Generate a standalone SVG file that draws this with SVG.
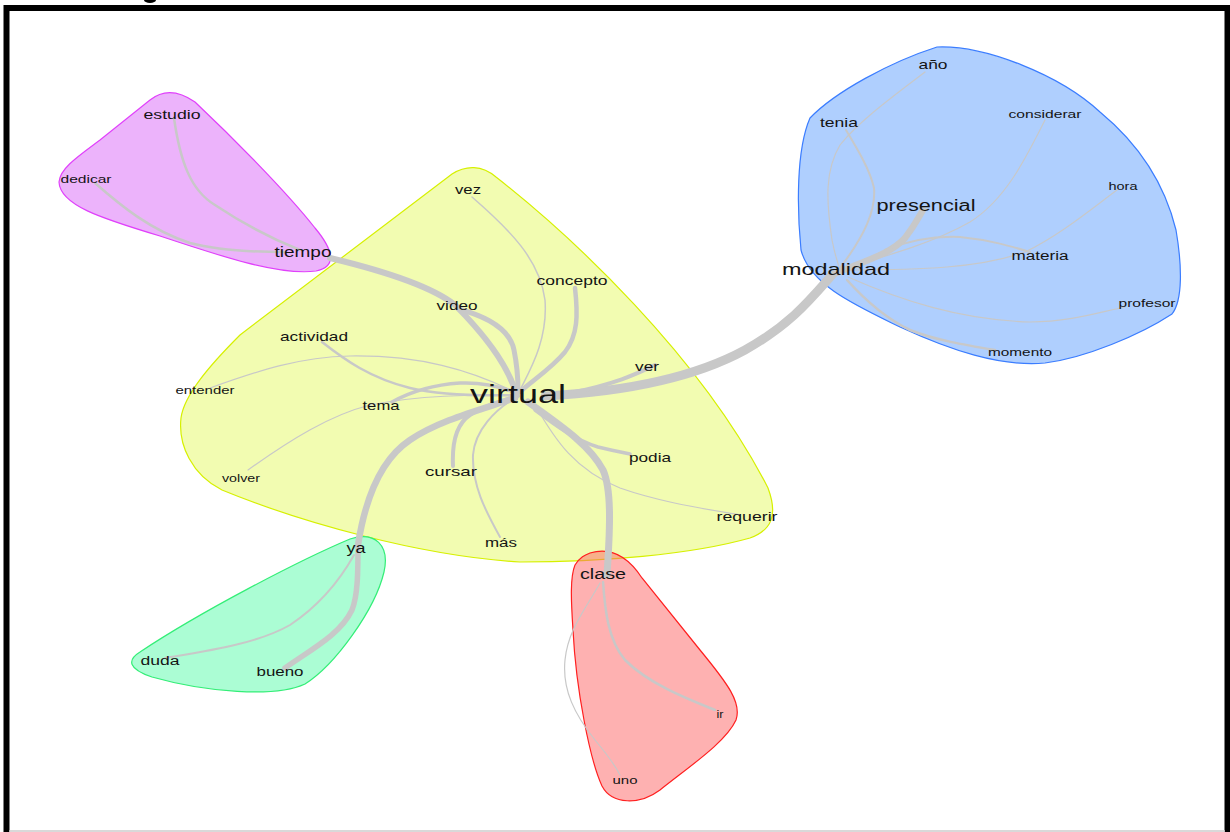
<svg xmlns="http://www.w3.org/2000/svg" width="1230" height="832" viewBox="0 0 1230 832">
<style>
.e{fill:none;stroke:#c8c8c8;stroke-linecap:round}
.t{font-family:"Liberation Sans",Arial,sans-serif;fill:#141414;text-anchor:middle}
.hull{stroke-width:1.2}
</style>
<rect x="0" y="0" width="1230" height="832" fill="#ffffff"/>
<g id="clusters">
<path class="hull" id="hull-yellow" fill="rgb(229,250,100)" fill-opacity="0.5" stroke="#d6f000" d="M 452,174 C 466,165 482,165 496,177 C 570,235 700,355 768,488 C 778,515 772,530 750,538 C 690,555 600,562 520,562 C 420,556 300,522 222,490 C 192,475 178,445 181,418 C 184,395 210,365 240,335 L 452,174 Z"/>
<path class="hull" id="hull-pink" fill="rgb(217,103,247)" fill-opacity="0.5" stroke="#e040fb" d="M 150,100 C 160,92 175,88 195,102 C 230,135 285,190 315,228 C 335,252 336,267 316,271 C 280,276 220,256 160,236 C 100,218 60,205 59,182 C 60,168 80,155 100,140 Z"/>
<path class="hull" id="hull-blue" fill="rgb(95,159,253)" fill-opacity="0.5" stroke="#3b7dff" d="M 937,47 C 985,45 1060,75 1100,112 C 1140,145 1165,185 1176,230 C 1182,265 1183,300 1172,314 C 1140,335 1085,358 1045,363 C 1000,367 950,350 900,327 C 855,305 810,285 801,250 C 797,210 796,150 810,118 C 835,92 890,62 937,47 Z"/>
<path class="hull" id="hull-green" fill="rgb(87,251,169)" fill-opacity="0.5" stroke="#33ee77" d="M 140,652 C 200,612 300,560 350,539 C 375,531 390,545 384,572 C 375,610 335,665 305,684 C 275,698 205,692 152,677 C 128,669 127,660 140,652 Z"/>
<path class="hull" id="hull-red" fill="rgb(253,99,99)" fill-opacity="0.5" stroke="#ff2020" d="M 590,553 C 610,547 627,555 642,578 L 700,650 C 728,684 742,703 736,720 C 726,742 690,766 660,790 C 640,805 612,805 602,786 C 590,760 576,690 573,630 C 571,600 570,577 575,565 C 580,557 585,555 590,553 Z"/>
</g>
<g id="connectors">
<path class="e" stroke-width="9" d="M 545,396 C 620,392 690,380 745,350 C 790,325 810,300 832,275"/>
<path class="e" stroke-width="6.5" d="M 832,275 C 860,262 890,255 905,238 C 915,225 920,215 923,210"/>
<path class="e" stroke-width="6" d="M 330,258 C 380,270 430,285 455,305 C 480,330 505,360 515,390"/>
<path class="e" stroke-width="5" d="M 462,310 C 490,318 510,330 514,350 C 517,365 518,378 518,390"/>
<path class="e" stroke-width="4.5" d="M 575,288 C 578,315 578,335 565,352 C 550,370 530,382 520,392"/>
<path class="e" stroke-width="1.5" d="M 472,197 C 510,230 540,260 545,300 C 548,340 530,370 520,390"/>
<path class="e" stroke-width="4" d="M 655,365 C 640,372 620,383 570,393"/>
<path class="e" stroke-width="2.5" d="M 322,342 C 345,360 370,378 410,388 C 440,395 480,396 515,395"/>
<path class="e" stroke-width="1.2" d="M 210,388 C 260,370 300,357 350,356 C 420,355 470,370 515,392"/>
<path class="e" stroke-width="3.5" d="M 392,402 C 410,392 430,385 460,383 C 485,382 505,388 518,394"/>
<path class="e" stroke-width="1.2" d="M 248,470 C 290,440 330,415 370,405 C 420,395 470,395 515,395"/>
<path class="e" stroke-width="4" d="M 453,466 C 452,445 455,425 470,415 C 485,405 505,400 518,396"/>
<path class="e" stroke-width="2" d="M 500,537 C 485,510 472,485 473,455 C 475,430 495,410 515,398"/>
<path class="e" stroke-width="6.5" d="M 515,398 C 480,410 440,420 410,440 C 380,460 365,500 358,545"/>
<path class="e" stroke-width="5.5" d="M 358,545 C 358,570 358,595 352,610 C 340,635 310,650 285,668"/>
<path class="e" stroke-width="2" d="M 354,555 C 340,580 320,605 290,625 C 255,645 200,652 165,658"/>
<path class="e" stroke-width="7" d="M 528,402 C 560,425 590,445 603,470 C 612,490 610,530 607,575"/>
<path class="e" stroke-width="3.5" d="M 535,410 C 555,425 575,440 598,447 C 610,450 620,452 630,454"/>
<path class="e" stroke-width="1.2" d="M 535,405 C 555,440 575,470 620,488 C 660,502 700,508 740,515"/>
<path class="e" stroke-width="2.5" d="M 603,582 C 605,610 608,640 625,660 C 650,685 690,700 715,710"/>
<path class="e" stroke-width="1.2" d="M 600,583 C 585,610 568,630 565,660 C 562,690 575,715 595,740 C 605,752 615,765 620,775"/>
<path class="e" stroke-width="2.5" d="M 174,118 C 180,160 190,190 215,205 C 245,225 275,240 300,250"/>
<path class="e" stroke-width="2.5" d="M 95,183 C 120,205 150,230 190,243 C 220,251 260,252 285,252"/>
<path class="e" stroke-width="2" d="M 846,130 C 858,150 870,170 874,188 C 876,210 865,235 840,268"/>
<path class="e" stroke-width="1.2" d="M 925,72 C 895,95 860,120 840,145 C 825,170 826,200 832,240 C 835,255 838,265 842,275"/>
<path class="e" stroke-width="1.2" d="M 1045,120 C 1025,160 1005,200 970,222 C 935,242 890,255 845,268"/>
<path class="e" stroke-width="1.2" d="M 1117,190 C 1090,210 1060,235 1025,252 C 980,268 920,270 850,270"/>
<path class="e" stroke-width="2" d="M 885,250 C 910,240 935,236 960,237 C 990,240 1010,246 1030,252"/>
<path class="e" stroke-width="1.2" d="M 848,277 C 900,300 960,320 1030,322 C 1070,322 1100,312 1125,307"/>
<path class="e" stroke-width="2.5" d="M 847,280 C 865,300 885,318 910,330 C 935,340 965,345 995,350"/>
</g>
<g id="n-estudio"><text class="t" x="172" y="119" font-size="13" textLength="57" lengthAdjust="spacingAndGlyphs">estudio</text></g>
<g id="n-dedicar"><text class="t" x="86" y="183" font-size="11" textLength="51" lengthAdjust="spacingAndGlyphs">dedicar</text></g>
<g id="n-tiempo"><text class="t" x="303" y="257" font-size="15" textLength="57" lengthAdjust="spacingAndGlyphs">tiempo</text></g>
<g id="n-vez"><text class="t" x="468" y="194" font-size="12" textLength="26" lengthAdjust="spacingAndGlyphs">vez</text></g>
<g id="n-concepto"><text class="t" x="572" y="285" font-size="13" textLength="71" lengthAdjust="spacingAndGlyphs">concepto</text></g>
<g id="n-video"><text class="t" x="457" y="310" font-size="13" textLength="41" lengthAdjust="spacingAndGlyphs">video</text></g>
<g id="n-actividad"><text class="t" x="314" y="341" font-size="13" textLength="68" lengthAdjust="spacingAndGlyphs">actividad</text></g>
<g id="n-entender"><text class="t" x="205" y="394" font-size="11" textLength="59" lengthAdjust="spacingAndGlyphs">entender</text></g>
<g id="n-tema"><text class="t" x="381" y="410" font-size="13" textLength="37" lengthAdjust="spacingAndGlyphs">tema</text></g>
<g id="n-virtual"><text class="t" x="518" y="403" font-size="26" textLength="96" lengthAdjust="spacingAndGlyphs">virtual</text></g>
<g id="n-ver"><text class="t" x="647" y="371" font-size="13" textLength="24" lengthAdjust="spacingAndGlyphs">ver</text></g>
<g id="n-podia"><text class="t" x="650" y="462" font-size="13" textLength="42" lengthAdjust="spacingAndGlyphs">podia</text></g>
<g id="n-cursar"><text class="t" x="451" y="476" font-size="13" textLength="52" lengthAdjust="spacingAndGlyphs">cursar</text></g>
<g id="n-volver"><text class="t" x="241" y="482" font-size="11" textLength="38" lengthAdjust="spacingAndGlyphs">volver</text></g>
<g id="n-requerir"><text class="t" x="747" y="521" font-size="12" textLength="61" lengthAdjust="spacingAndGlyphs">requerir</text></g>
<g id="n-mas"><text class="t" x="501" y="547" font-size="12" textLength="32" lengthAdjust="spacingAndGlyphs">más</text></g>
<g id="n-ya"><text class="t" x="356" y="553" font-size="14" textLength="19" lengthAdjust="spacingAndGlyphs">ya</text></g>
<g id="n-clase"><text class="t" x="603" y="579" font-size="14" textLength="46" lengthAdjust="spacingAndGlyphs">clase</text></g>
<g id="n-duda"><text class="t" x="160" y="665" font-size="12" textLength="39" lengthAdjust="spacingAndGlyphs">duda</text></g>
<g id="n-bueno"><text class="t" x="280" y="676" font-size="13" textLength="47" lengthAdjust="spacingAndGlyphs">bueno</text></g>
<g id="n-ir"><text class="t" x="720" y="718" font-size="10" textLength="7" lengthAdjust="spacingAndGlyphs">ir</text></g>
<g id="n-uno"><text class="t" x="625" y="784" font-size="10" textLength="25" lengthAdjust="spacingAndGlyphs">uno</text></g>
<g id="n-ano"><text class="t" x="933" y="69" font-size="13" textLength="29" lengthAdjust="spacingAndGlyphs">año</text></g>
<g id="n-tenia"><text class="t" x="839" y="127" font-size="13" textLength="38" lengthAdjust="spacingAndGlyphs">tenia</text></g>
<g id="n-considerar"><text class="t" x="1045" y="118" font-size="11" textLength="73" lengthAdjust="spacingAndGlyphs">considerar</text></g>
<g id="n-presencial"><text class="t" x="926" y="211" font-size="16" textLength="99" lengthAdjust="spacingAndGlyphs">presencial</text></g>
<g id="n-hora"><text class="t" x="1123" y="190" font-size="11" textLength="29" lengthAdjust="spacingAndGlyphs">hora</text></g>
<g id="n-modalidad"><text class="t" x="836" y="275" font-size="17" textLength="108" lengthAdjust="spacingAndGlyphs">modalidad</text></g>
<g id="n-materia"><text class="t" x="1040" y="260" font-size="12" textLength="57" lengthAdjust="spacingAndGlyphs">materia</text></g>
<g id="n-profesor"><text class="t" x="1147" y="307" font-size="11" textLength="57" lengthAdjust="spacingAndGlyphs">profesor</text></g>
<g id="n-momento"><text class="t" x="1020" y="356" font-size="11" textLength="64" lengthAdjust="spacingAndGlyphs">momento</text></g>
<g id="frame">
<path d="M 6.5,832 L 6.5,8 L 1227.5,8 L 1227.5,832" fill="none" stroke="#000000" stroke-width="6"/>
<line x1="9" y1="831" x2="1225" y2="831" stroke="#cccccc" stroke-width="1.5"/>
<ellipse cx="150" cy="0" rx="6" ry="3" fill="#000000"/>
</g>
</svg>
